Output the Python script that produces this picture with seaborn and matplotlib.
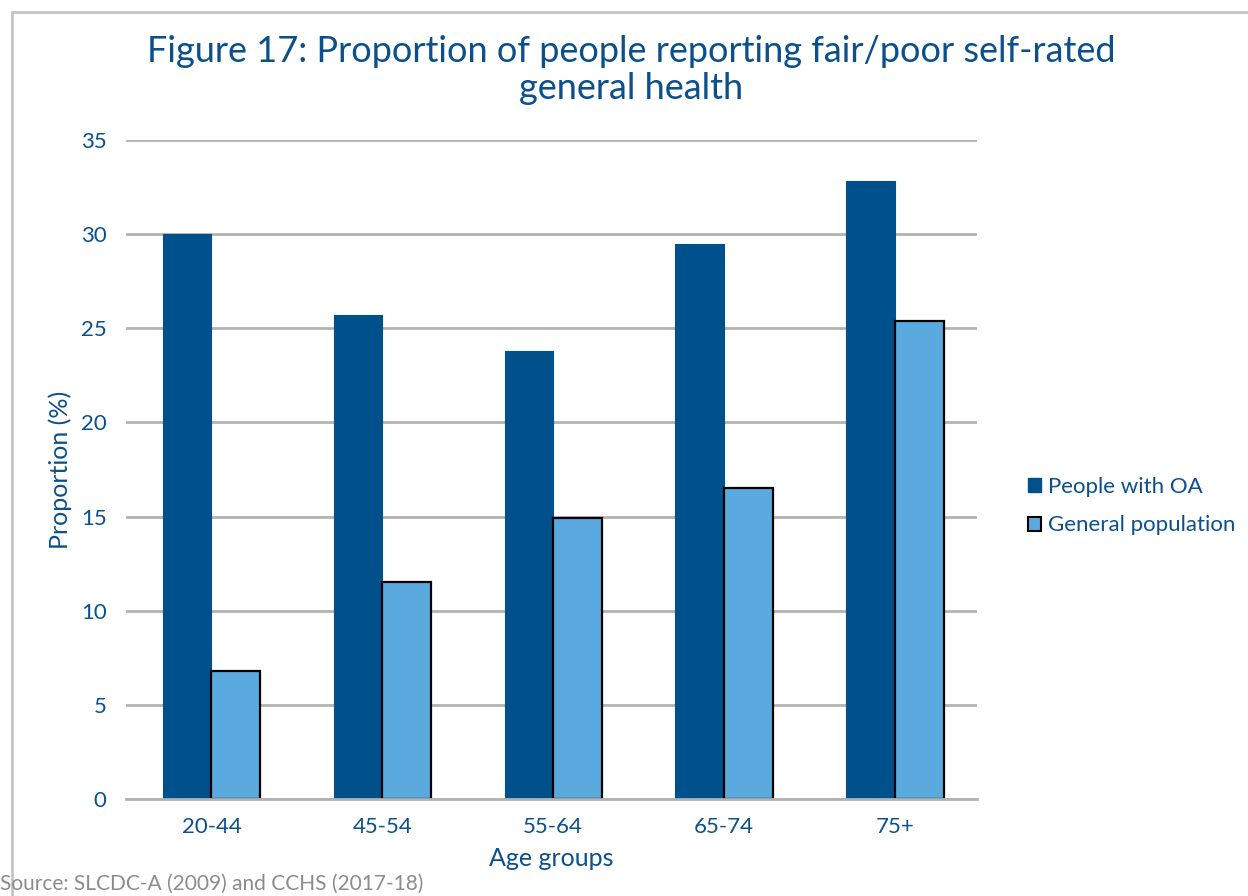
import matplotlib
matplotlib.use("Agg")
import matplotlib.pyplot as plt
from matplotlib.patches import Patch
from matplotlib.lines import Line2D
import pandas as pd
import seaborn as sns

age_groups = ["20-44", "45-54", "55-64", "65-74", "75+"]
people_with_oa = [30.0, 25.7, 23.8, 29.5, 32.8]
general_population = [6.8, 11.5, 14.9, 16.5, 25.4]
series_names = ["People with OA", "General population"]
y_ticks = [0, 5, 10, 15, 20, 25, 30, 35]

OA_COLOR = "#00508C"
GP_COLOR = "#5AAADF"
TEXT_COLOR = "#0B4F8C"
GRID_COLOR = "#B3B3B3"

df = pd.DataFrame({
    "Age groups": age_groups * 2,
    "Series": [series_names[0]] * len(age_groups) + [series_names[1]] * len(age_groups),
    "Proportion": people_with_oa + general_population,
})

sns.set_theme(style="white")
plt.rcParams["font.family"] = ["Lato", "DejaVu Sans"]

fig = plt.figure(figsize=(12.48, 8.96), dpi=100)
ax = fig.add_axes([126 / 1248, 1 - 799 / 896, (977 - 126) / 1248, (799 - 140) / 896])

sns.barplot(
    data=df, x="Age groups", y="Proportion", hue="Series",
    palette=[OA_COLOR, GP_COLOR], width=0.57, ax=ax, legend=False,
    saturation=1, errorbar=None,
)

# outline the general-population bars
for container, edge in zip(ax.containers, [OA_COLOR, "black"]):
    for bar in container:
        bar.set_edgecolor(edge)
        bar.set_linewidth(1.6 if edge == "black" else 0.8)

ax.set_ylim(0, 35)
ax.set_xlim(-0.5, 4.48)
ax.set_yticks(y_ticks)
ax.yaxis.grid(True, color=GRID_COLOR, linewidth=2)
ax.set_axisbelow(True)
for side in ["top", "right", "left"]:
    ax.spines[side].set_visible(False)
ax.spines["bottom"].set_color(GRID_COLOR)
ax.spines["bottom"].set_linewidth(2)
ax.tick_params(axis="both", length=0, labelsize=16, colors=TEXT_COLOR)
ax.tick_params(axis="y", pad=14)
ax.tick_params(axis="x", pad=13)

ax.set_xlabel("Age groups", fontsize=18, color=TEXT_COLOR, labelpad=7)
ax.set_ylabel("Proportion (%)", fontsize=18, color=TEXT_COLOR, labelpad=6)

fig.text(0.506, 0.922, "Figure 17: Proportion of people reporting fair/poor self-rated\ngeneral health",
         ha="center", va="center", fontsize=26, color=TEXT_COLOR, linespacing=1.15)

handles = [
    Patch(facecolor=OA_COLOR, edgecolor=OA_COLOR),
    Patch(facecolor=GP_COLOR, edgecolor="black", linewidth=1.5),
]
fig.legend(handles, series_names, loc="center left",
           bbox_to_anchor=(1008 / 1248, 1 - 506 / 896), frameon=False,
           fontsize=16, handlelength=0.6, handleheight=0.6, handletextpad=0.3,
           labelspacing=0.85, labelcolor=TEXT_COLOR)

fig.text(0.0, 1 - 884 / 896, "Source: SLCDC-A (2009) and CCHS (2017-18)",
         ha="left", va="center", fontsize=15, color="#8C8C8C")

# panel frame
fig.add_artist(Line2D([12 / 1248, 1], [1 - 12 / 896, 1 - 12 / 896],
                      transform=fig.transFigure, color="#C4C4C4", linewidth=2))
fig.add_artist(Line2D([12 / 1248, 12 / 1248], [0, 1 - 12 / 896],
                      transform=fig.transFigure, color="#C4C4C4", linewidth=2))

fig.savefig("out.png", dpi=100, facecolor="white")
